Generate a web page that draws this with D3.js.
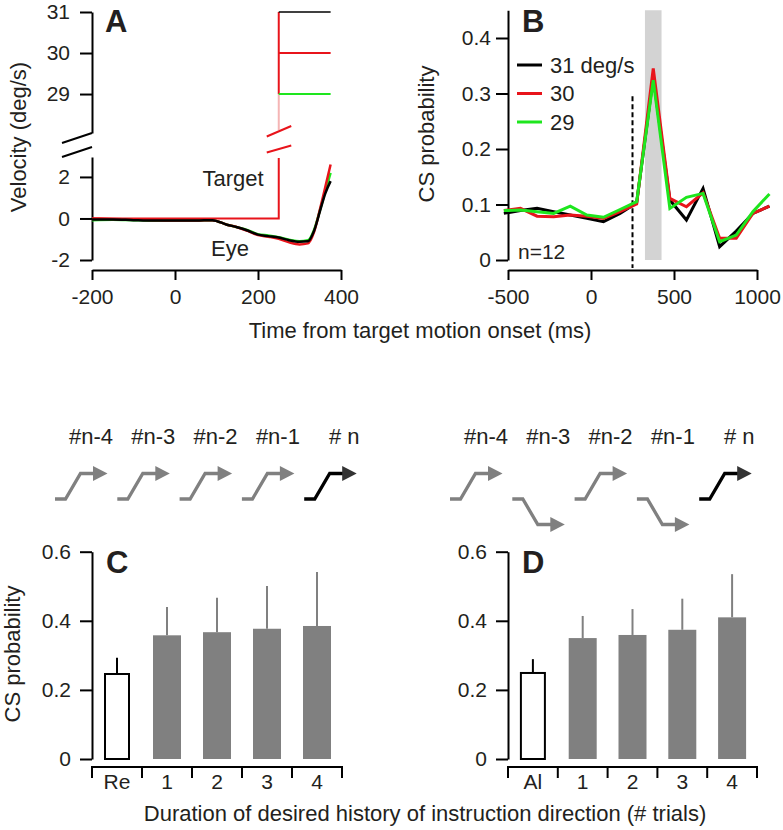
<!DOCTYPE html>
<html><head><meta charset="utf-8">
<script src="https://cdn.jsdelivr.net/npm/d3@7"></script>
<style>
body{margin:0;background:#fff}
text{font-family:"Liberation Sans",Arial,Helvetica,sans-serif;fill:#231f20}
</style>
</head><body>
<svg id="chart" width="783" height="830"></svg>
<script>
// ---------- DATA ----------
// Panel A: eye velocity (deg/s) vs time (ms)
const eyeTime  = [-200,-150,-100,-50,0,50,90,125,150,175,200,225,250,275,300,320,335,350,362,375];
const eye31 = [-0.05,-0.05,-0.08,-0.1,-0.1,-0.1,-0.08,-0.3,-0.42,-0.58,-0.78,-0.85,-0.92,-1.05,-1.12,-1.1,-0.6,0.4,1.2,1.8];
const eye30 = [0,-0.02,-0.05,-0.08,-0.1,-0.1,-0.08,-0.3,-0.42,-0.6,-0.8,-0.88,-0.98,-1.15,-1.25,-1.2,-0.65,0.5,1.5,2.6];
const eye29 = [-0.08,-0.06,-0.08,-0.1,-0.1,-0.1,-0.08,-0.3,-0.42,-0.56,-0.76,-0.82,-0.9,-1.02,-1.1,-1.05,-0.55,0.45,1.3,2.2];
const targetSpeeds = [31, 30, 29];
const targetOnset = 250, traceEnd = 375;
const aXTicks = [-200, 0, 200, 400];
const aUpperTicks = [29, 30, 31];
const aLowerTicks = [-2, 0, 2];

// Panel B: CS probability vs time
const csTime = [-525,-425,-325,-225,-125,-25,75,175,275,375,475,575,675,775,875,975,1075];
const cs31 = [0.084,0.089,0.093,0.087,0.081,0.075,0.069,0.084,0.103,0.33,0.108,0.072,0.129,0.024,0.052,0.084,0.097];
const cs30 = [0.089,0.093,0.079,0.078,0.081,0.079,0.075,0.087,0.101,0.345,0.111,0.096,0.121,0.039,0.039,0.084,0.097];
const cs29 = [0.089,0.090,0.087,0.084,0.097,0.081,0.077,0.091,0.105,0.324,0.093,0.113,0.120,0.033,0.045,0.087,0.119];
const legendLabels = ["31 deg/s", "30", "29"];
const shadeWindow = [325, 425];
const bXTicks = [-500, 0, 500, 1000];
const bYTicks = [0, 0.1, 0.2, 0.3, 0.4];

// Panels C, D: history arrows and bars
const histLabels = ["#n-4", "#n-3", "#n-2", "#n-1", "# n"];
const histDirC = [1, 1, 1, 1, 1];
const histDirD = [1, -1, 1, -1, 1];
const catsC = ["Re", "1", "2", "3", "4"];
const meanC = [0.246, 0.358, 0.367, 0.377, 0.385];
const semC  = [0.047, 0.082, 0.100, 0.124, 0.156];
const catsD = ["Al", "1", "2", "3", "4"];
const meanD = [0.249, 0.350, 0.359, 0.374, 0.410];
const semD  = [0.040, 0.064, 0.075, 0.090, 0.125];
const barYTicks = [0, 0.2, 0.4, 0.6];

// ---------- DRAW ----------
const svg = d3.select("#chart");
const BLACK = "#000", RED = "#e8141b", GREEN = "#1ee61e", GRAY = "#808080";
const seriesColors = [BLACK, RED, GREEN];
const TICK_FS = 21, TITLE_FS = 22;
const intFmt = d => String(d);
const decFmt = d => d === 0 ? "0" : d.toFixed(1);

function styleAxis(g, fs) {
  g.selectAll("path.domain").attr("stroke", BLACK).attr("stroke-width", 2);
  g.selectAll(".tick line").attr("stroke", BLACK).attr("stroke-width", 2);
  g.selectAll(".tick text").attr("font-size", fs).attr("fill", "#231f20")
    .attr("font-family", '"Liberation Sans",Arial,sans-serif');
}
function panelLabel(t, x, y) {
  svg.append("text").attr("x", x).attr("y", y).attr("font-size", 31)
    .attr("font-weight", "bold").text(t);
}

// ===== Panel A =====
const xA = d3.scaleLinear().domain([-200, 400]).range([92, 341]);
const yUp = d3.scaleLinear().domain([28.05, 31]).range([133, 12]);
const yLo = d3.scaleLinear().domain([-2, 2.96]).range([260, 157]);

svg.append("g").attr("transform", "translate(92,0)")
  .call(d3.axisLeft(yUp).tickValues(aUpperTicks).tickSize(12).tickSizeOuter(0).tickPadding(10).tickFormat(intFmt))
  .call(g => styleAxis(g, TICK_FS));
svg.append("g").attr("transform", "translate(92,0)")
  .call(d3.axisLeft(yLo).tickValues(aLowerTicks).tickSize(12).tickSizeOuter(0).tickPadding(10).tickFormat(intFmt))
  .call(g => styleAxis(g, TICK_FS));
svg.append("g").attr("transform", "translate(0,270)")
  .call(d3.axisBottom(xA).tickValues(aXTicks).tickSize(10).tickSizeOuter(0).tickPadding(9).tickFormat(intFmt))
  .call(g => styleAxis(g, TICK_FS));

// axis break slashes
[[143, 133], [157, 147]].forEach(([y1, y2]) => {
  svg.append("line").attr("x1", 62).attr("y1", y1).attr("x2", 92).attr("y2", y2)
    .attr("stroke", BLACK).attr("stroke-width", 2);
});

// target: lower part
const xOn = xA(targetOnset);
svg.append("path")
  .attr("d", d3.line()([[xA(-200), yLo(0)], [xOn, yLo(0)], [xOn, yLo.range()[1] + 1]]))
  .attr("fill", "none").attr("stroke", RED).attr("stroke-width", 2);
// target: upper part
svg.append("line").attr("x1", xOn).attr("x2", xOn).attr("y1", yUp(29)).attr("y2", yUp(28.12))
  .attr("stroke", "#f5b5b5").attr("stroke-width", 2);
svg.append("line").attr("x1", xOn).attr("x2", xOn).attr("y1", yUp(31)).attr("y2", yUp(29))
  .attr("stroke", RED).attr("stroke-width", 2);
targetSpeeds.forEach((s, i) => {
  svg.append("line").attr("x1", xOn).attr("x2", xA(traceEnd)).attr("y1", yUp(s)).attr("y2", yUp(s))
    .attr("stroke", seriesColors[i]).attr("stroke-width", i === 0 ? 1.5 : 2);
});
// red break slashes on target
[[136.5, 126], [152.5, 145.5]].forEach(([y1, y2]) => {
  svg.append("line").attr("x1", xOn - 12).attr("y1", y1).attr("x2", xOn + 12.5).attr("y2", y2)
    .attr("stroke", RED).attr("stroke-width", 2);
});

// eye traces
const eyeLine = d3.line().x((d, i) => xA(eyeTime[i])).y(d => yLo(d)).curve(d3.curveMonotoneX);
[[eye29, GREEN], [eye30, RED], [eye31, BLACK]].forEach(([arr, c]) => {
  svg.append("path").attr("d", eyeLine(arr)).attr("fill", "none").attr("stroke", c).attr("stroke-width", 2.5);
});

svg.append("text").attr("x", 233).attr("y", 186).attr("text-anchor", "middle").attr("font-size", TITLE_FS).text("Target");
svg.append("text").attr("x", 230).attr("y", 256).attr("text-anchor", "middle").attr("font-size", TITLE_FS).text("Eye");
svg.append("text").attr("transform", "translate(26,137) rotate(-90)").attr("text-anchor", "middle")
  .attr("font-size", TITLE_FS).text("Velocity (deg/s)");
panelLabel("A", 105, 32);

// ===== Panel B =====
const xB = d3.scaleLinear().domain([-500, 1000]).range([508, 757]);
const yB = d3.scaleLinear().domain([0, 0.45]).range([260, 10.25]);

svg.append("rect").attr("x", xB(shadeWindow[0])).attr("y", yB(0.45))
  .attr("width", xB(shadeWindow[1]) - xB(shadeWindow[0])).attr("height", yB(0) - yB(0.45))
  .attr("fill", "#d3d3d3");

svg.append("g").attr("transform", "translate(508,0)")
  .call(d3.axisLeft(yB).tickValues(bYTicks).tickSize(12).tickSizeOuter(0).tickPadding(5).tickFormat(decFmt))
  .call(g => styleAxis(g, TICK_FS));
svg.append("g").attr("transform", "translate(0,270)")
  .call(d3.axisBottom(xB).tickValues(bXTicks).tickSize(10).tickSizeOuter(0).tickPadding(9).tickFormat(intFmt))
  .call(g => styleAxis(g, TICK_FS));

svg.append("line").attr("x1", xB(targetOnset)).attr("x2", xB(targetOnset))
  .attr("y1", yB(0.295)).attr("y2", 268)
  .attr("stroke", BLACK).attr("stroke-width", 2).attr("stroke-dasharray", "5,3");

const csLine = d3.line().x((d, i) => xB(csTime[i])).y(d => yB(d));
[[cs31, BLACK], [cs30, RED], [cs29, GREEN]].forEach(([arr, c]) => {
  svg.append("path").attr("d", csLine(arr)).attr("fill", "none").attr("stroke", c)
    .attr("stroke-width", 3).attr("stroke-linejoin", "miter");
});

legendLabels.forEach((lab, i) => {
  const y = 65 + i * 28.5;
  svg.append("line").attr("x1", 517).attr("x2", 542).attr("y1", y).attr("y2", y)
    .attr("stroke", seriesColors[i]).attr("stroke-width", 3);
  svg.append("text").attr("x", 550).attr("y", y + 7.5).attr("font-size", 22).text(lab);
});
svg.append("text").attr("x", 518).attr("y", 259).attr("font-size", 21).text("n=12");
svg.append("text").attr("transform", "translate(434,134) rotate(-90)").attr("text-anchor", "middle")
  .attr("font-size", TITLE_FS).text("CS probability");
panelLabel("B", 522, 32);

svg.append("text").attr("x", 420).attr("y", 338).attr("text-anchor", "middle")
  .attr("font-size", TITLE_FS).text("Time from target motion onset (ms)");

// ===== History arrows =====
function drawArrows(x0, dirs) {
  const step = 62.3, yBase = 499, rise = 25.5;
  dirs.forEach((d, i) => {
    const sx = x0 + i * step;
    const last = i === dirs.length - 1;
    const yTop = yBase - d * rise;
    const col = last ? BLACK : GRAY;
    svg.append("path")
      .attr("d", d3.line()([[sx, yBase], [sx + 10.5, yBase], [sx + 25.5, yTop], [sx + 39, yTop]]))
      .attr("fill", "none").attr("stroke", col).attr("stroke-width", 3.3).attr("stroke-linejoin", "miter");
    svg.append("path")
      .attr("d", d3.line()([[sx + 38, yTop - 7.5], [sx + 52.5, yTop], [sx + 38, yTop + 7.5]]) + "Z")
      .attr("fill", last ? "#333" : GRAY);
    svg.append("text").attr("x", sx + 36 + (last ? 4 : 0)).attr("y", 443.5).attr("text-anchor", "middle")
      .attr("font-size", 22).text(histLabels[i]);
  });
}
drawArrows(55, histDirC);
drawArrows(450, histDirD);

// ===== Bar panels =====
function barPanel(x0, x1, cats, means, sems, label, labX) {
  const yBar = d3.scaleLinear().domain([0, 0.6]).range([759, 551.7]);
  const xBand = d3.scaleBand().domain(cats).range([x0, x1]).padding(0);
  svg.append("g").attr("transform", `translate(${x0},0)`)
    .call(d3.axisLeft(yBar).tickValues(barYTicks).tickSize(12).tickSizeOuter(0).tickPadding(9).tickFormat(decFmt))
    .call(g => styleAxis(g, TICK_FS));
  // category axis with edge ticks
  const axY = 767;
  svg.append("line").attr("x1", x0).attr("x2", x1).attr("y1", axY).attr("y2", axY)
    .attr("stroke", BLACK).attr("stroke-width", 2);
  const edges = cats.map(c => xBand(c)).concat([x1]);
  edges.forEach(e => {
    svg.append("line").attr("x1", e).attr("x2", e).attr("y1", axY - 1).attr("y2", axY + 11)
      .attr("stroke", BLACK).attr("stroke-width", 2);
  });
  cats.forEach((c, i) => {
    svg.append("text").attr("x", xBand(c) + xBand.bandwidth() / 2).attr("y", 789)
      .attr("text-anchor", "middle").attr("font-size", TICK_FS).text(c);
  });
  cats.forEach((c, i) => {
    const cx = xBand(c) + xBand.bandwidth() / 2;
    const ref = i === 0;
    const w = ref ? 24 : 28;
    svg.append("line").attr("x1", cx).attr("x2", cx)
      .attr("y1", yBar(means[i])).attr("y2", yBar(means[i] + sems[i]))
      .attr("stroke", ref ? BLACK : GRAY).attr("stroke-width", 2);
    svg.append("rect").attr("x", cx - w / 2).attr("y", yBar(means[i]))
      .attr("width", w).attr("height", yBar(0) - yBar(means[i]))
      .attr("fill", ref ? "#fff" : GRAY)
      .attr("stroke", ref ? BLACK : "none").attr("stroke-width", 2);
  });
  panelLabel(label, labX, 573);
}
barPanel(92, 342, catsC, meanC, semC, "C", 106);
barPanel(508, 757, catsD, meanD, semD, "D", 522);

svg.append("text").attr("transform", "translate(20,654) rotate(-90)").attr("text-anchor", "middle")
  .attr("font-size", TITLE_FS).text("CS probability");
svg.append("text").attr("x", 425).attr("y", 821).attr("text-anchor", "middle")
  .attr("font-size", TITLE_FS).text("Duration of desired history of instruction direction (# trials)");
</script>
</body></html>
